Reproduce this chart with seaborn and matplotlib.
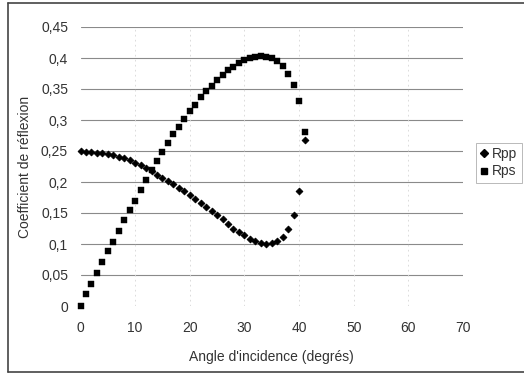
import numpy as np
import pandas as pd
import matplotlib
matplotlib.use("Agg")
import matplotlib.pyplot as plt
from matplotlib.lines import Line2D
import seaborn as sns

# Angles of incidence (degrees)
angles = list(range(0, 42))

# P-P reflection coefficient
rpp = [0.250, 0.249, 0.248, 0.247, 0.246, 0.245, 0.243, 0.241, 0.238, 0.235,
       0.231, 0.227, 0.222, 0.217, 0.212, 0.207, 0.202, 0.196, 0.190, 0.185,
       0.179, 0.173, 0.166, 0.160, 0.153, 0.146, 0.140, 0.132, 0.125, 0.120,
       0.114, 0.108, 0.105, 0.102, 0.100, 0.101, 0.105, 0.111, 0.124, 0.146,
       0.185, 0.267]

# P-S reflection coefficient
rps = [0.000, 0.019, 0.036, 0.053, 0.071, 0.088, 0.104, 0.121, 0.138, 0.155,
       0.170, 0.187, 0.203, 0.219, 0.234, 0.248, 0.263, 0.277, 0.289, 0.302,
       0.314, 0.325, 0.337, 0.347, 0.355, 0.365, 0.373, 0.380, 0.386, 0.392,
       0.397, 0.400, 0.402, 0.403, 0.402, 0.400, 0.395, 0.387, 0.374, 0.357,
       0.331, 0.280]

x_ticks = [0, 10, 20, 30, 40, 50, 60, 70]
y_ticks = [0, 0.05, 0.1, 0.15, 0.2, 0.25, 0.3, 0.35, 0.4, 0.45]
y_ticklabels = ["0", "0,05", "0,1", "0,15", "0,2", "0,25", "0,3", "0,35", "0,4", "0,45"]

sns.set_style("white")
plt.rcParams["font.family"] = ["Liberation Sans", "DejaVu Sans"]

df_pp = pd.DataFrame({"angle": angles, "coef": rpp})
df_ps = pd.DataFrame({"angle": angles, "coef": rps})

W, H = 524, 374
fig = plt.figure(figsize=(W / 100, H / 100), dpi=100)
left, right, top, bottom = 80.5, 463, 27, 306
ax = fig.add_axes([left / W, 1 - bottom / H, (right - left) / W, (bottom - top) / H])

ax.set_xlim(0, 70)
ax.set_ylim(0, 0.45)

# grid
for yv in y_ticks[1:]:
    ax.axhline(yv, color="#8a8a8a", lw=0.8, zorder=0)
for xv in x_ticks[1:]:
    ax.axvline(xv, color="#d6d6d6", lw=0.6, ls=(0, (2, 4)), zorder=0)

sns.scatterplot(data=df_pp, x="angle", y="coef", marker="D", s=12, color="black",
                edgecolor="black", linewidth=0.6, ax=ax, clip_on=False, zorder=3)
sns.scatterplot(data=df_ps, x="angle", y="coef", marker="s", s=17, color="black",
                edgecolor="black", linewidth=0.3, ax=ax, clip_on=False, zorder=3)

for sp in ax.spines.values():
    sp.set_visible(False)

ax.set_xticks(x_ticks)
ax.set_xticklabels([str(v) for v in x_ticks])
ax.set_yticks(y_ticks)
ax.set_yticklabels(y_ticklabels)
ax.tick_params(axis="both", length=0, labelsize=10, colors="#333333")
ax.tick_params(axis="y", pad=9)
ax.tick_params(axis="x", pad=11)

ax.set_xlabel("Angle d'incidence (degrés)", fontsize=10, color="#333333")
ax.set_ylabel("Coefficient de réflexion", fontsize=10, color="#333333")
ax.xaxis.set_label_coords(0.5, -0.158)
ax.yaxis.set_label_coords(-0.127, 0.5)

handles = [
    Line2D([], [], ls="none", marker="D", ms=4, color="black"),
    Line2D([], [], ls="none", marker="s", ms=4.5, color="black"),
]
leg = ax.legend(handles, ["Rpp", "Rps"], loc="upper left",
                bbox_to_anchor=(1.033, 0.585), frameon=True, fancybox=False,
                fontsize=10, handlelength=0.6, handletextpad=0.3,
                borderpad=0.3, labelspacing=0.25, borderaxespad=0)
leg.get_frame().set_edgecolor("#9a9a9a")
leg.get_frame().set_linewidth(0.6)
for t in leg.get_texts():
    t.set_color("#333333")

# outer chart frame
fx0, fy0, fy1 = 8 / W, 1 - 372 / H, 1 - 3 / H
fig.add_artist(Line2D([fx0, fx0], [fy0, fy1], color="#444444", lw=1.2))
fig.add_artist(Line2D([fx0, 1.0], [fy1, fy1], color="#444444", lw=1.2))
fig.add_artist(Line2D([fx0, 1.0], [fy0, fy0], color="#444444", lw=1.2))

fig.savefig("out.png", dpi=100, facecolor="white")
